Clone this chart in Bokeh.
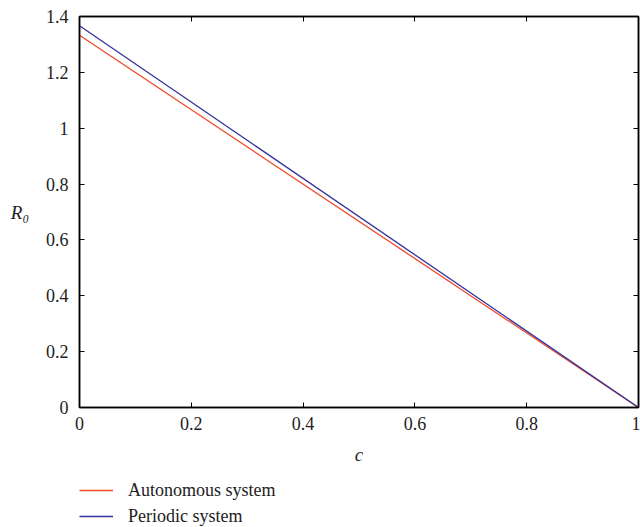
from bokeh.plotting import figure
from bokeh.layouts import column
from bokeh.models import Range1d, FixedTicker, LinearAxis, Legend, LegendItem
from bokeh.embed import file_html
from bokeh.resources import INLINE

c_values = [0.0, 1.0]
r0_autonomous = [1.333, 0.0]
r0_periodic = [1.367, 0.0]
x_ticks = [0, 0.2, 0.4, 0.6, 0.8, 1]
x_tick_labels = ["0", "0.2", "0.4", "0.6", "0.8", "1"]
y_ticks = [0, 0.2, 0.4, 0.6, 0.8, 1, 1.2, 1.4]
y_tick_labels = ["0", "0.2", "0.4", "0.6", "0.8", "1", "1.2", "1.4"]
series_names = ["Autonomous system", "Periodic system"]
series_colors = ["#f04a2a", "#33339a"]

FONT = "Liberation Serif"
TEXT = "#222222"

p = figure(width=640, height=470, output_backend="svg", toolbar_location=None,
           x_range=Range1d(0, 1), y_range=Range1d(0, 1.4),
           x_axis_location=None, y_axis_location=None,
           min_border_left=79, min_border_right=2, min_border_top=16, min_border_bottom=63)
p.grid.visible = False
p.outline_line_color = "black"
p.outline_line_width = 1.5
p.background_fill_color = "white"
p.border_fill_color = "white"


def style_axis(ax, ticks, labels, show_labels):
    ax.ticker = FixedTicker(ticks=ticks)
    ax.major_label_overrides = {t: l for t, l in zip(ticks, labels)}
    ax.minor_tick_line_color = None
    ax.major_tick_in = 5
    ax.major_tick_out = 0
    ax.axis_line_color = "black"
    ax.axis_line_width = 1.5
    ax.major_tick_line_color = "black"
    ax.major_label_text_font = FONT
    ax.major_label_text_font_size = "18px" if show_labels else "0px"
    ax.major_label_text_color = TEXT


xb = LinearAxis()
style_axis(xb, x_ticks, x_tick_labels, True)
xb.axis_label = "c"
xb.axis_label_text_font = FONT
xb.axis_label_text_font_style = "italic"
xb.axis_label_text_font_size = "19px"
xb.axis_label_text_color = TEXT
xb.axis_label_standoff = 11
xb.major_label_standoff = 9
p.add_layout(xb, "below")

yl = LinearAxis()
style_axis(yl, y_ticks, y_tick_labels, True)
yl.major_label_standoff = 11
yl.axis_label = "R₀"
yl.axis_label_orientation = "horizontal"
yl.axis_label_text_font = FONT
yl.axis_label_text_font_style = "italic"
yl.axis_label_text_font_size = "19px"
yl.axis_label_text_color = TEXT
yl.axis_label_standoff = 14
p.add_layout(yl, "left")

xt = LinearAxis()
style_axis(xt, x_ticks, [""] * len(x_ticks), False)
xt.major_label_text_alpha = 0
p.add_layout(xt, "above")

yr = LinearAxis()
style_axis(yr, y_ticks, [""] * len(y_ticks), False)
yr.major_label_text_alpha = 0
p.add_layout(yr, "right")

p.line(c_values, r0_autonomous, line_color=series_colors[0], line_width=1.3)
p.line(c_values, r0_periodic, line_color=series_colors[1], line_width=1.3)

# legend panel below the chart (its renderers are hidden; only legend glyphs show)
lf = figure(width=640, height=57, output_backend="svg", toolbar_location=None,
            x_range=Range1d(0, 1), y_range=Range1d(0, 1),
            x_axis_location=None, y_axis_location=None,
            min_border_left=79, min_border_right=2, min_border_top=0, min_border_bottom=0)
lf.grid.visible = False
lf.outline_line_color = None
lf.background_fill_color = "white"
lf.border_fill_color = "white"
lr1 = lf.line(c_values, r0_autonomous, line_color=series_colors[0], line_width=1.3, visible=False)
lr2 = lf.line(c_values, r0_periodic, line_color=series_colors[1], line_width=1.3, visible=False)

legend = Legend(items=[LegendItem(label=series_names[0], renderers=[lr1]),
                       LegendItem(label=series_names[1], renderers=[lr2])],
                location=(0, 0), orientation="vertical")
legend.border_line_color = None
legend.background_fill_alpha = 0
legend.inactive_fill_alpha = 0
legend.margin = 0
legend.padding = 0
legend.glyph_width = 34
legend.glyph_height = 22
legend.label_standoff = 15
legend.spacing = 4
legend.label_text_font = FONT
legend.label_text_font_size = "18px"
legend.label_text_color = TEXT
legend.label_height = 22
lf.add_layout(legend, "center")

layout = column(p, lf, spacing=0)
open("out.html", "w").write(file_html(layout, INLINE))
